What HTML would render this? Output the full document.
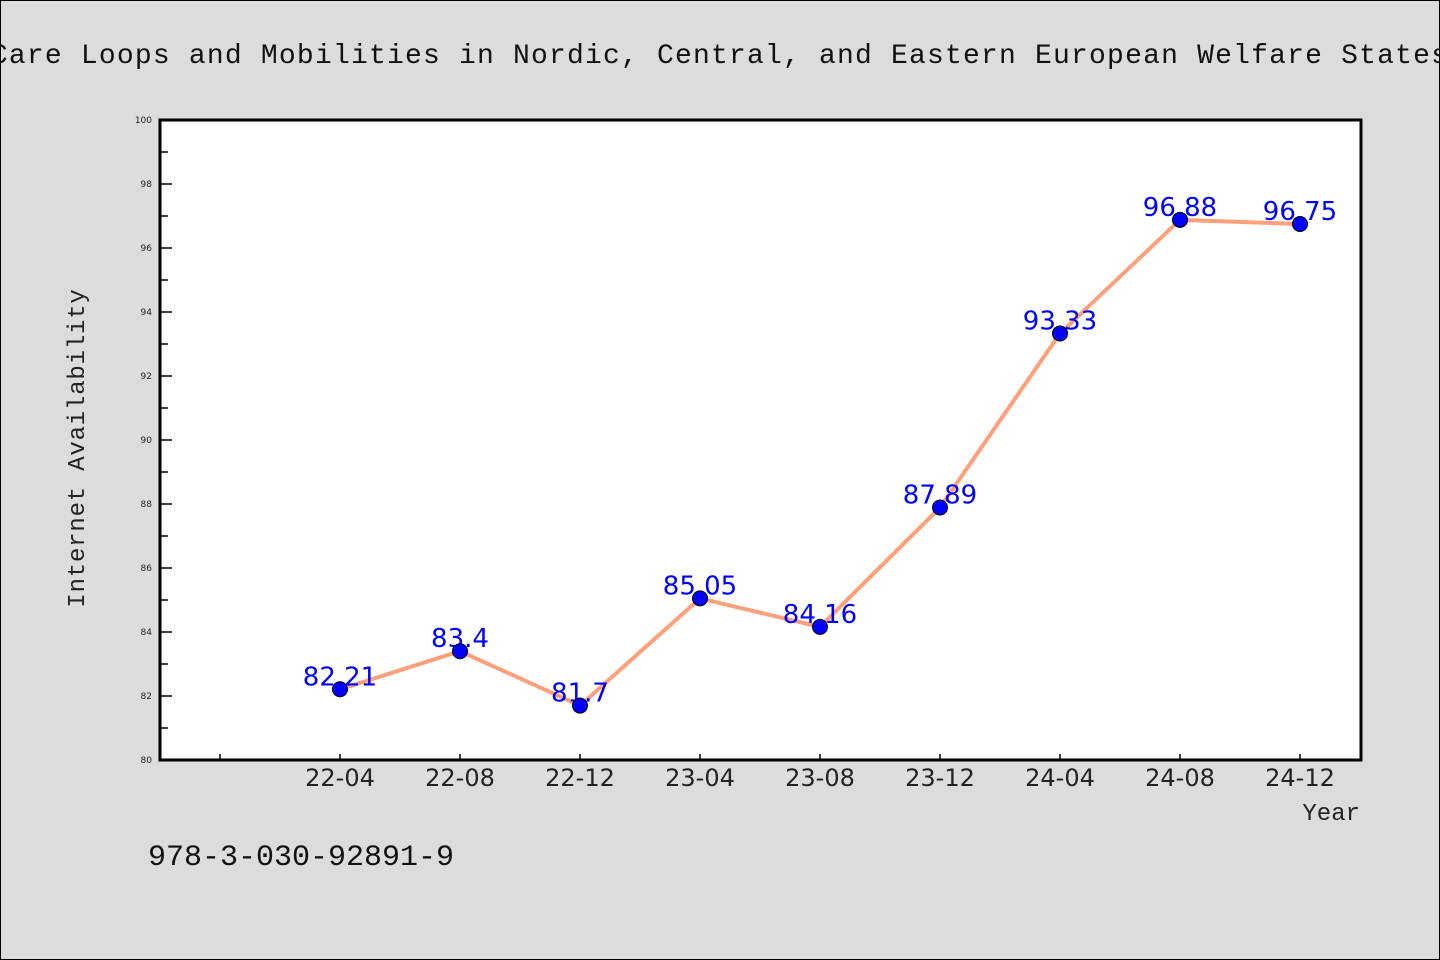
<!DOCTYPE html>
<html><head><meta charset="utf-8"><style>
html,body{margin:0;padding:0;background:#dcdcdc;}
svg{display:block;}
</style></head><body>
<svg id="chart" width="1440" height="960" xmlns="http://www.w3.org/2000/svg">
<rect x="0.5" y="0.5" width="1439" height="959" fill="#dcdcdc" stroke="#000" stroke-width="1"/>
<text x="720" y="63" text-anchor="middle" font-family="Liberation Mono, monospace" font-size="28" letter-spacing="1.2" fill="#111">Care Loops and Mobilities in Nordic, Central, and Eastern European Welfare States</text>
<rect x="160" y="120" width="1201" height="640" fill="#fff" stroke="#000" stroke-width="3"/>
<g id="yticks"></g><g id="xticks"></g>
<text transform="translate(84,448) rotate(-90)" text-anchor="middle" font-family="Liberation Mono, monospace" font-size="24" letter-spacing="0.8" fill="#222">Internet Availability</text>
<text x="1360" y="820" text-anchor="end" font-family="Liberation Mono, monospace" font-size="24" fill="#222">Year</text>
<text x="148" y="865" font-family="Liberation Mono, monospace" font-size="30" fill="#111">978-3-030-92891-9</text>
<g id="series"></g>
</svg>
<script>
const categories = ["22-04","22-08","22-12","23-04","23-08","23-12","24-04","24-08","24-12"];
const values = [82.21,83.4,81.7,85.05,84.16,87.89,93.33,96.88,96.75];
const yTicks = [80,82,84,86,88,90,92,94,96,98,100];
const NS="http://www.w3.org/2000/svg";
const pLeft=160,pRight=1361,pTop=120,pBottom=760,yMin=80,yMax=100;
function yS(v){return pBottom-(v-yMin)/(yMax-yMin)*(pBottom-pTop);}
function xS(i){return 220+120*(i+1);}
function mk(tag,attrs,parent){const e=document.createElementNS(NS,tag);for(const k in attrs)e.setAttribute(k,attrs[k]);parent.appendChild(e);return e;}
const yt=document.getElementById('yticks');
for(let v=yMin;v<=yMax;v+=1){
  const major=yTicks.includes(v);
  const l=mk('line',{x1:pLeft,x2:pLeft+(major?12:8),y1:yS(v),y2:yS(v),stroke:'#000','stroke-width':1.5},yt);
  
  
}
yTicks.forEach(v=>{
  const t=mk('text',{x:152,y:yS(v)+3,'text-anchor':'end','font-family':'DejaVu Sans, sans-serif','font-size':9,fill:'#222'},yt);
  
  
  t.textContent=v;
});
const xt=document.getElementById('xticks');
const l0=mk('line',{x1:220,x2:220,y1:pBottom,y2:pBottom-6,stroke:'#000','stroke-width':1.5},xt);


categories.forEach((c,i)=>{
  const l=mk('line',{x1:xS(i),x2:xS(i),y1:pBottom,y2:pBottom-6,stroke:'#000','stroke-width':1.5},xt);
  
  
  const t=mk('text',{x:xS(i),y:786,'text-anchor':'middle','font-family':'DejaVu Sans, sans-serif','font-size':24,fill:'#222'},xt);
  
  
  t.textContent=c;
});
const s=document.getElementById('series');
const pl=mk('polyline',{points:values.map((v,i)=>xS(i)+','+yS(v)).join(' '),fill:'none',stroke:'#ffa07a','stroke-width':4,'stroke-linejoin':'round'},s);


values.forEach((v,i)=>{
  const t=mk('text',{x:xS(i),y:yS(v)-4,'text-anchor':'middle','font-family':'DejaVu Sans, sans-serif','font-size':26,fill:'#0000ff'},s);
  
  
  t.textContent=v;
});
values.forEach((v,i)=>{
  const c=mk('circle',{cx:xS(i),cy:yS(v),r:7.5,fill:'#0000ff',stroke:'#000','stroke-width':1},s);
  
  
});
</script>
</body></html>
